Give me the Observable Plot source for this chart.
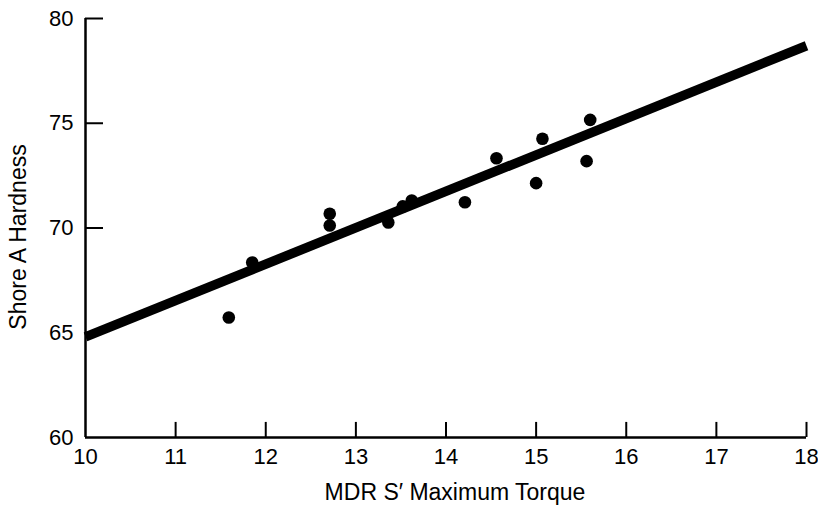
<!DOCTYPE html>
<html>
<head>
<meta charset="utf-8">
<script src="https://cdn.jsdelivr.net/npm/d3@7"></script>
<script src="https://cdn.jsdelivr.net/npm/@observablehq/plot@0.6"></script>
<style>
  html, body { margin: 0; padding: 0; background: #fff; }
  #chart svg { display: block; }
</style>
</head>
<body>
<div id="chart"></div>
<script>
const torque = [11.59, 11.85, 12.71, 12.71, 13.36, 13.52, 13.62, 14.21, 14.56, 15.0, 15.07, 15.56, 15.6];
const hardness = [65.73, 68.35, 70.68, 70.12, 70.26, 71.03, 71.31, 71.23, 73.33, 72.14, 74.26, 73.19, 75.16];
const fitX = [10, 18];
const fitY = [64.8, 78.7];
const xTicks = [10, 11, 12, 13, 14, 15, 16, 17, 18];
const yTicks = [60, 65, 70, 75, 80];

const points = torque.map((x, i) => ({x, y: hardness[i]}));
const fit = fitX.map((x, i) => ({x, y: fitY[i]}));

const chart = Plot.plot({
  width: 818,
  height: 511,
  marginLeft: 85,
  marginRight: 12,
  marginTop: 18,
  marginBottom: 74,
  style: {fontFamily: "Arial, 'Liberation Sans', Helvetica, sans-serif", color: "#000", background: "#fff"},
  x: {domain: [10, 18], ticks: xTicks},
  y: {domain: [60, 80], ticks: yTicks},
  marks: [
    Plot.axisX(xTicks, {tickSize: 0, tickPadding: 11, fontSize: 22, label: null}),
    Plot.axisY(yTicks, {tickSize: 0, tickPadding: 12, fontSize: 22, label: null}),
    Plot.ruleY([60], {stroke: "#000", strokeWidth: 2.5}),
    Plot.ruleX([10], {stroke: "#000", strokeWidth: 2.5}),
    Plot.ruleX(xTicks.slice(1), {x: d => d, y1: 60, y2: 60.72, stroke: "#000", strokeWidth: 2}),
    Plot.ruleY(yTicks.slice(1), {y: d => d, x1: 10, x2: 10.2, stroke: "#000", strokeWidth: 2}),
    Plot.line(fit, {x: "x", y: "y", stroke: "#000", strokeWidth: 9.5, strokeLinecap: "butt"}),
    Plot.dot(points, {x: "x", y: "y", r: 6.3, fill: "#000"}),
    Plot.text(["MDR S\u2032 Maximum Torque"], {frameAnchor: "bottom", dx: 9, dy: 62, fontSize: 23, fill: "#000"}),
    Plot.text(["Shore A Hardness"], {frameAnchor: "left", dx: -67, dy: 9, rotate: -90, textAnchor: "middle", fontSize: 23, fill: "#000"})
  ]
});
document.getElementById("chart").appendChild(chart);
</script>
</body>
</html>
